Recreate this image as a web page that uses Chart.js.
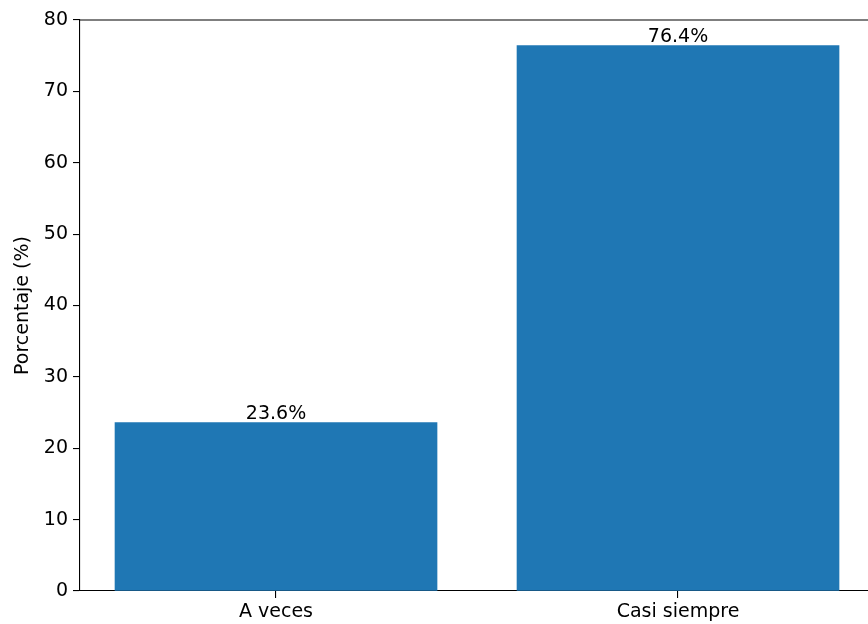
<!DOCTYPE html>
<html>
<head>
<meta charset="utf-8">
<script src="https://cdn.jsdelivr.net/npm/chart.js@4"></script>
<style>
  html, body { margin: 0; padding: 0; background: #fff; overflow: hidden; }
  #wrap { width: 868px; height: 624px; }
</style>
</head>
<body>
<div id="wrap"><canvas id="chart" width="868" height="624"></canvas></div>
<script>
// datos del gráfico
const categories = ['A veces', 'Casi siempre'];
const percentages = [23.6, 76.4];
const yTicks = [0, 10, 20, 30, 40, 50, 60, 70, 80];

const FONT = 'DejaVu Sans';

// etiquetas de porcentaje encima de cada barra
const barLabels = {
  id: 'barLabels',
  afterDatasetsDraw(chart) {
    const ctx = chart.ctx;
    const meta = chart.getDatasetMeta(0);
    ctx.save();
    ctx.font = '19px "' + FONT + '"';
    ctx.fillStyle = '#000';
    ctx.textAlign = 'center';
    ctx.textBaseline = 'alphabetic';
    meta.data.forEach((bar, i) => {
      ctx.fillText(percentages[i].toFixed(1) + '%', bar.x, bar.y - 3.5);
    });
    ctx.restore();
  }
};

// línea superior del marco (spine)
const topSpine = {
  id: 'topSpine',
  afterDraw(chart) {
    const { ctx, chartArea } = chart;
    ctx.save();
    ctx.strokeStyle = '#000';
    ctx.lineWidth = 1.1;
    ctx.beginPath();
    ctx.moveTo(chartArea.left, chartArea.top);
    ctx.lineTo(chartArea.right, chartArea.top);
    ctx.stroke();
    ctx.restore();
  }
};

const ctx = document.getElementById('chart').getContext('2d');
new Chart(ctx, {
  type: 'bar',
  data: {
    datasets: [{
      data: categories.map((c, i) => ({ x: i, y: percentages[i] })),
      backgroundColor: '#1f77b4',
      borderWidth: 0,
      barThickness: 322
    }]
  },
  options: {
    responsive: false,
    animation: false,
    layout: { padding: { top: 20, left: 0, right: 0, bottom: 0 } },
    plugins: {
      legend: { display: false },
      tooltip: { enabled: false }
    },
    scales: {
      x: {
        type: 'linear',
        min: -0.4876,
        max: 1.4726,
        offset: false,
        afterBuildTicks: (scale) => { scale.ticks = categories.map((c, i) => ({ value: i })); },
        afterFit: (scale) => { scale.height = 33; },
        ticks: {
          callback: (v) => categories[v],
          color: '#000',
          font: { family: FONT, size: 19 },
          padding: 3,
          maxRotation: 0
        },
        grid: {
          display: true,
          offset: false,
          drawOnChartArea: false,
          drawTicks: true,
          tickLength: 7,
          color: '#000',
          lineWidth: 1.1
        },
        border: { display: true, color: '#000', width: 1.1 }
      },
      y: {
        min: 0,
        max: 80,
        afterBuildTicks: (scale) => { scale.ticks = yTicks.map(v => ({ value: v })); },
        afterFit: (scale) => { scale.width = 80; },
        ticks: {
          color: '#000',
          font: { family: FONT, size: 19 },
          padding: 5
        },
        grid: {
          display: true,
          drawOnChartArea: false,
          drawTicks: true,
          tickLength: 7,
          color: '#000',
          lineWidth: 1.1
        },
        border: { display: true, color: '#000', width: 1.1 },
        title: {
          display: true,
          text: 'Porcentaje (%)',
          color: '#000',
          font: { family: FONT, size: 19 },
          padding: { top: 12, bottom: 0 }
        }
      }
    }
  },
  plugins: [barLabels, topSpine]
});
</script>
</body>
</html>
